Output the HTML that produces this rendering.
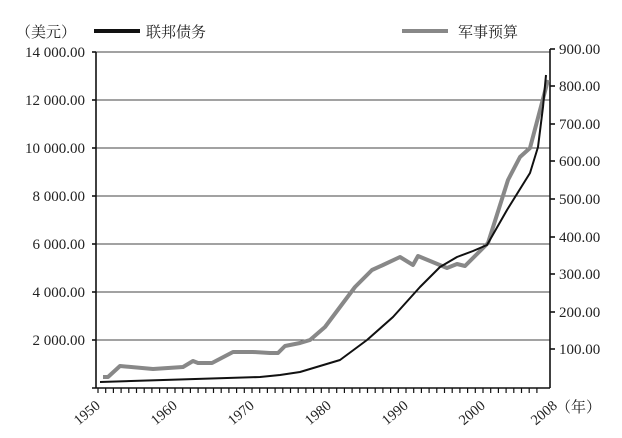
<!DOCTYPE html>
<html><head><meta charset="utf-8"><style>
html,body{margin:0;padding:0;background:#fff;}
svg{display:block;}
text{font-family:"Liberation Serif","Noto Serif CJK SC",serif;fill:#222;}
</style></head><body>
<svg width="622" height="438" viewBox="0 0 622 438">
<!-- legend -->
<text x="16" y="37" font-size="15">（美元）</text>
<line x1="94" y1="31" x2="140" y2="31" stroke="#111" stroke-width="4"/>
<text x="146" y="37" font-size="15">联邦债务</text>
<line x1="402" y1="31" x2="448" y2="31" stroke="#888" stroke-width="4"/>
<text x="458" y="37" font-size="15">军事预算</text>
<!-- gridlines -->
<g stroke="#444" stroke-width="1">
<line x1="96" y1="52" x2="550" y2="52"/>
<line x1="96" y1="100" x2="550" y2="100"/>
<line x1="96" y1="148" x2="550" y2="148"/>
<line x1="96" y1="196" x2="550" y2="196"/>
<line x1="96" y1="244" x2="550" y2="244"/>
<line x1="96" y1="292" x2="550" y2="292"/>
<line x1="96" y1="340" x2="550" y2="340"/>
</g>
<!-- axes -->
<g stroke="#111" stroke-width="1.6">
<line x1="96" y1="52" x2="96" y2="388"/>
<line x1="550" y1="49" x2="550" y2="388"/>
<line x1="92" y1="388" x2="550" y2="388"/>
<line x1="92" y1="52" x2="96" y2="52"/>
<line x1="92" y1="100" x2="96" y2="100"/>
<line x1="92" y1="148" x2="96" y2="148"/>
<line x1="92" y1="196" x2="96" y2="196"/>
<line x1="92" y1="244" x2="96" y2="244"/>
<line x1="92" y1="292" x2="96" y2="292"/>
<line x1="92" y1="340" x2="96" y2="340"/>
<line x1="550" y1="49" x2="555" y2="49"/>
<line x1="550" y1="86" x2="555" y2="86"/>
<line x1="550" y1="124" x2="555" y2="124"/>
<line x1="550" y1="161" x2="555" y2="161"/>
<line x1="550" y1="199" x2="555" y2="199"/>
<line x1="550" y1="237" x2="555" y2="237"/>
<line x1="550" y1="274" x2="555" y2="274"/>
<line x1="550" y1="312" x2="555" y2="312"/>
<line x1="550" y1="349" x2="555" y2="349"/>
</g>
<g id="ticks" stroke="#111" stroke-width="1.2"></g>
<!-- left labels -->
<g font-size="15" text-anchor="end">
<text x="85" y="57">14 000.00</text>
<text x="85" y="105">12 000.00</text>
<text x="85" y="153">10 000.00</text>
<text x="85" y="201">8 000.00</text>
<text x="85" y="249">6 000.00</text>
<text x="85" y="297">4 000.00</text>
<text x="85" y="345">2 000.00</text>
</g>
<g font-size="15">
<text x="559" y="54">900.00</text>
<text x="559" y="91">800.00</text>
<text x="559" y="129">700.00</text>
<text x="559" y="166">600.00</text>
<text x="559" y="204">500.00</text>
<text x="559" y="242">400.00</text>
<text x="559" y="279">300.00</text>
<text x="559" y="317">200.00</text>
<text x="559" y="354">100.00</text>
</g>
<g font-size="14.5" text-anchor="end">
<text transform="translate(101,407) rotate(-40)">1950</text>
<text transform="translate(178,407) rotate(-40)">1960</text>
<text transform="translate(255,407) rotate(-40)">1970</text>
<text transform="translate(332,407) rotate(-40)">1980</text>
<text transform="translate(409,407) rotate(-40)">1990</text>
<text transform="translate(486,407) rotate(-40)">2000</text>
<text transform="translate(558,407) rotate(-40)">2008</text>
</g>
<text x="556" y="412" font-size="15">（年）</text>
<!-- military -->
<polyline fill="none" stroke="#888" stroke-width="4" stroke-linejoin="round" points="103,377 108,377 120,366 153,369 183,367 193,361 198,363 212,363 233,352 253,352 270,353 278,353 285,346 300,343 310,340 325,327 355,287 372,270 383,265 400,257 413,265 418,256 447,268 457,264 465,266 488,243 508,180 520,157 530,148 548,80"/>
<!-- debt -->
<polyline fill="none" stroke="#111" stroke-width="2" stroke-linejoin="round" points="100,382 260,377 280,375 300,372 340,360 367,340 393,317 420,287 440,267 457,257 473,251 487,245 507,210 530,173 538,147 543,107 546,75"/>
</svg>
<script>
var g=document.getElementById('ticks'),s='';
for(var i=0;i<58;i++){var x=98+i*7.7;s+='<line x1="'+x+'" y1="388" x2="'+x+'" y2="393"/>';}
g.innerHTML=s;
</script>
</body></html>
